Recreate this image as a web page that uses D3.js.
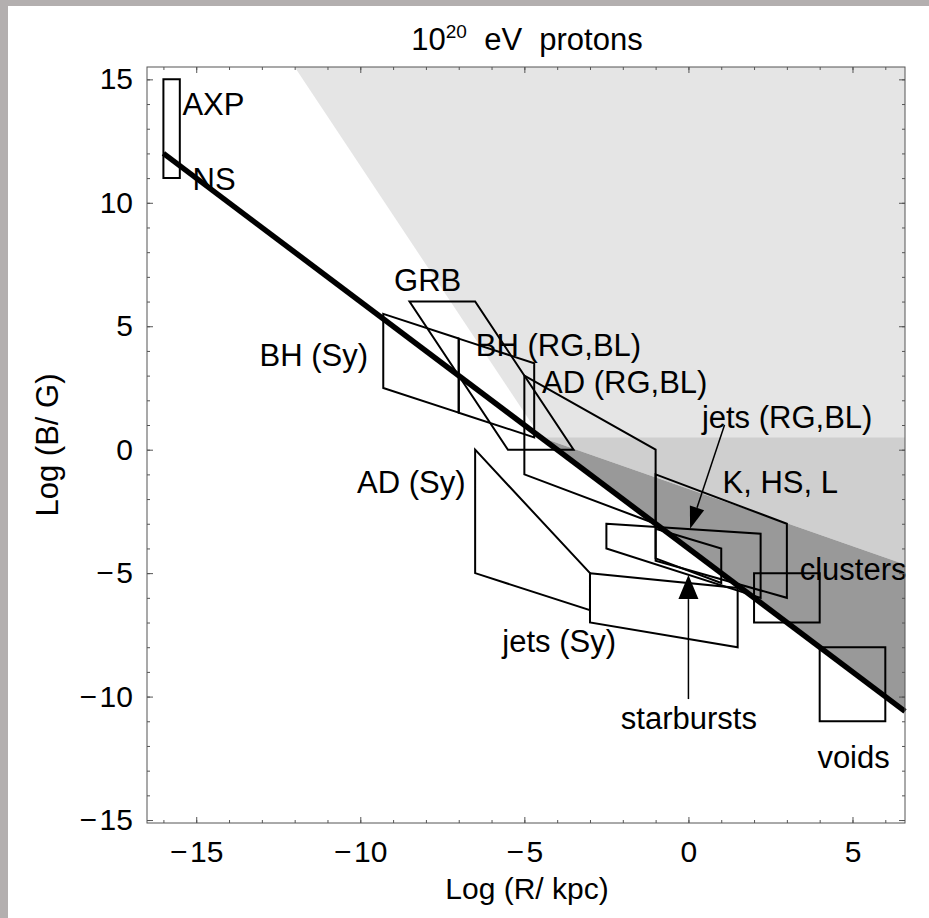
<!DOCTYPE html>
<html>
<head>
<meta charset="utf-8">
<script src="https://cdn.jsdelivr.net/npm/d3@7"></script>
<style>
  body { margin: 0; background: #ffffff; }
  svg text { font-family: "Liberation Sans", Arial, Helvetica, sans-serif; fill: #000; }
</style>
</head>
<body>
<svg id="chart" width="929" height="918"></svg>
<script>
// axis ticks
const xTicks = [-15, -10, -5, 0, 5];
const yTicks = [-15, -10, -5, 0, 5, 10, 15];
const xMinor = d3.range(-16, 7);
const yMinor = d3.range(-15, 16);

// 10^20 eV proton line (thick)
const hillasLine = [[-16, 12], [6.6, -10.6]];

// shaded regions
const lightRegion = [[-12, 15.5], [6.6, 15.5], [6.6, 0.5], [-4.5, 0.5]];
const midRegion = [[-4.5, 0.5], [6.6, 0.5], [6.6, -4.65]];
const darkRegion = [[-4.5, 0.5], [6.6, -4.65], [6.6, -10.6]];

// source outlines
const axpBox = [[-16, 11], [-15.5, 11], [-15.5, 15], [-16, 15]];
const grbBox = [[-8.5, 6], [-6.5, 6], [-3.5, 0], [-5.5, 0]];
const bhSyBox = [[-9.3, 5.5], [-7, 4.5], [-7, 1.5], [-9.3, 2.5]];
const bhRgBox = [[-7, 4.5], [-4.7, 3.5], [-4.7, 0.5], [-7, 1.5]];
const adRgBox = [[-5, 3], [-1, 0], [-1, -3], [-5, -1]];
const adSyBox = [[-6.5, 0], [-3, -5], [-3, -6.5], [-6.5, -5]];
const jetsSyBox = [[-3, -5], [1.5, -5.6], [1.5, -8], [-3, -7]];
const khslBox = [[-1, -1], [3, -3], [3, -6], [-1, -4.5]];
const jetsRgBox = [[-2.5, -3], [2.2, -3.4], [2.2, -6], [-2.5, -4]];
const starburstBox = [[-1, -3.2], [1, -4], [1, -5.4], [-1, -4.4]];
const clusterBox = [[2, -5], [4, -5], [4, -7], [2, -7]];
const voidBox = [[4, -8], [6, -8], [6, -11], [4, -11]];

const outlines = [axpBox, grbBox, bhSyBox, bhRgBox, adRgBox, adSyBox,
    jetsSyBox, khslBox, jetsRgBox, starburstBox, clusterBox, voidBox];

// labels: text, left x, baseline y (data units)
const labelNames = ['AXP', 'NS', 'GRB', 'BH (Sy)', 'BH (RG,BL)', 'AD (RG,BL)',
    'jets (RG,BL)', 'K, HS, L', 'AD (Sy)', 'clusters', 'jets (Sy)', 'starbursts', 'voids'];
const labelX = [-15.42, -15.11, -8.97, -13.07, -6.48, -4.46, 0.41, 1.04, -10.1, 3.39, -5.67, -2.06, 3.93];
const labelY = [13.56, 10.52, 6.43, 3.39, 3.80, 2.30, 0.88, -1.75, -1.75, -5.28, -8.19, -11.31, -12.89];

// arrows: [tail, tip]
const arrowJetsRg = [[1.1, 1.0], [0.05, -3.2]];
const arrowStarburst = [[0, -10.1], [0, -5.08]];

const svg = d3.select('#chart');
const W = 929, H = 918;

// slide background and white panel
svg.append('rect').attr('width', W).attr('height', H).attr('fill', '#b3afaf');
svg.append('rect').attr('x', 8).attr('y', 6).attr('width', W - 8).attr('height', H - 6).attr('fill', '#fff');

const x = d3.scaleLinear().domain([-16.5, 6.6]).range([147, 905]);
const y = d3.scaleLinear().domain([-15.12, 15.5]).range([823, 67]);

const line = d3.line().x(d => x(d[0])).y(d => y(d[1]));
const poly = pts => line(pts) + 'Z';

const plot = svg.append('g');

// shading
plot.append('path').attr('d', poly(lightRegion)).attr('fill', '#e5e5e5');
plot.append('path').attr('d', poly(midRegion)).attr('fill', '#cfcfcf');
plot.append('path').attr('d', poly(darkRegion)).attr('fill', '#999999');

// outlines
plot.selectAll('.box')
    .data(outlines)
    .enter()
    .append('path')
    .attr('class', 'box')
    .attr('d', d => poly(d))
    .attr('fill', 'none')
    .attr('stroke', '#000')
    .attr('stroke-width', 2)
    .attr('stroke-linejoin', 'miter');

// thick line
plot.append('path')
    .attr('d', line(hillasLine))
    .attr('stroke', '#000')
    .attr('stroke-width', 5.5)
    .attr('fill', 'none');

// arrows
function drawArrow(a, headLen, headW) {
    const x0 = x(a[0][0]), y0 = y(a[0][1]), x1 = x(a[1][0]), y1 = y(a[1][1]);
    const ang = Math.atan2(y1 - y0, x1 - x0);
    const bx = x1 - headLen * Math.cos(ang), by = y1 - headLen * Math.sin(ang);
    const px = -Math.sin(ang) * headW / 2, py = Math.cos(ang) * headW / 2;
    plot.append('line')
        .attr('x1', x0).attr('y1', y0).attr('x2', bx).attr('y2', by)
        .attr('stroke', '#000').attr('stroke-width', 1.5);
    plot.append('path')
        .attr('d', `M${x1},${y1}L${bx + px},${by + py}L${bx - px},${by - py}Z`)
        .attr('fill', '#000');
}
drawArrow(arrowJetsRg, 22, 15);
drawArrow(arrowStarburst, 24, 20);

// labels
plot.selectAll('.lbl')
    .data(labelNames)
    .enter()
    .append('text')
    .attr('class', 'lbl')
    .attr('x', (d, i) => x(labelX[i]))
    .attr('y', (d, i) => y(labelY[i]))
    .style('font-size', '31px')
    .text(d => d);

// frame + ticks (inward, mirrored)
const fmt = d => d < 0 ? '\u2212\u200a' + Math.abs(d) : String(d);
const axes = svg.append('g');

axes.append('g').attr('transform', `translate(0,${y.range()[0]})`)
    .call(d3.axisBottom(x).tickValues(xMinor).tickSize(-3).tickFormat(''));
axes.append('g').attr('transform', `translate(0,${y.range()[0]})`)
    .call(d3.axisBottom(x).tickValues(xTicks).tickSize(-6).tickPadding(18).tickFormat(fmt));
axes.append('g').attr('transform', `translate(0,${y.range()[1]})`)
    .call(d3.axisTop(x).tickValues(xMinor).tickSize(-3).tickFormat(''));
axes.append('g').attr('transform', `translate(0,${y.range()[1]})`)
    .call(d3.axisTop(x).tickValues(xTicks).tickSize(-6).tickFormat(''));

axes.append('g').attr('transform', `translate(${x.range()[0]},0)`)
    .call(d3.axisLeft(y).tickValues(yMinor).tickSize(-3).tickFormat(''));
axes.append('g').attr('transform', `translate(${x.range()[0]},0)`)
    .call(d3.axisLeft(y).tickValues(yTicks).tickSize(-6).tickPadding(14).tickFormat(fmt));
axes.append('g').attr('transform', `translate(${x.range()[1]},0)`)
    .call(d3.axisRight(y).tickValues(yMinor).tickSize(-3).tickFormat(''));
axes.append('g').attr('transform', `translate(${x.range()[1]},0)`)
    .call(d3.axisRight(y).tickValues(yTicks).tickSize(-6).tickFormat(''));

axes.selectAll('.domain').remove();
axes.selectAll('.tick line').attr('stroke', '#555');
axes.selectAll('.tick text')
    .style('font-size', '30px')
    .style('font-family', '"Liberation Sans", Arial, sans-serif')
    .attr('fill', '#000');

svg.append('rect')
    .attr('x', x.range()[0]).attr('y', y.range()[1])
    .attr('width', x.range()[1] - x.range()[0])
    .attr('height', y.range()[0] - y.range()[1])
    .attr('fill', 'none').attr('stroke', '#555').attr('stroke-width', 1);

// title
const title = svg.append('text')
    .attr('x', 527).attr('y', 50)
    .attr('text-anchor', 'middle')
    .style('font-size', '31px');
title.append('tspan').text('10');
title.append('tspan').attr('dy', -12).style('font-size', '19px').text('20');
title.append('tspan').attr('dy', 12).text('\u00a0\u00a0eV\u00a0\u00a0protons');

// axis titles
svg.append('text')
    .attr('x', 527).attr('y', 899)
    .attr('text-anchor', 'middle')
    .style('font-size', '30px')
    .text('Log (R/ kpc)');

svg.append('text')
    .attr('transform', 'translate(58,445) rotate(-90)')
    .attr('text-anchor', 'middle')
    .style('font-size', '31px')
    .text('Log (B/ G)');
</script>
</body>
</html>
